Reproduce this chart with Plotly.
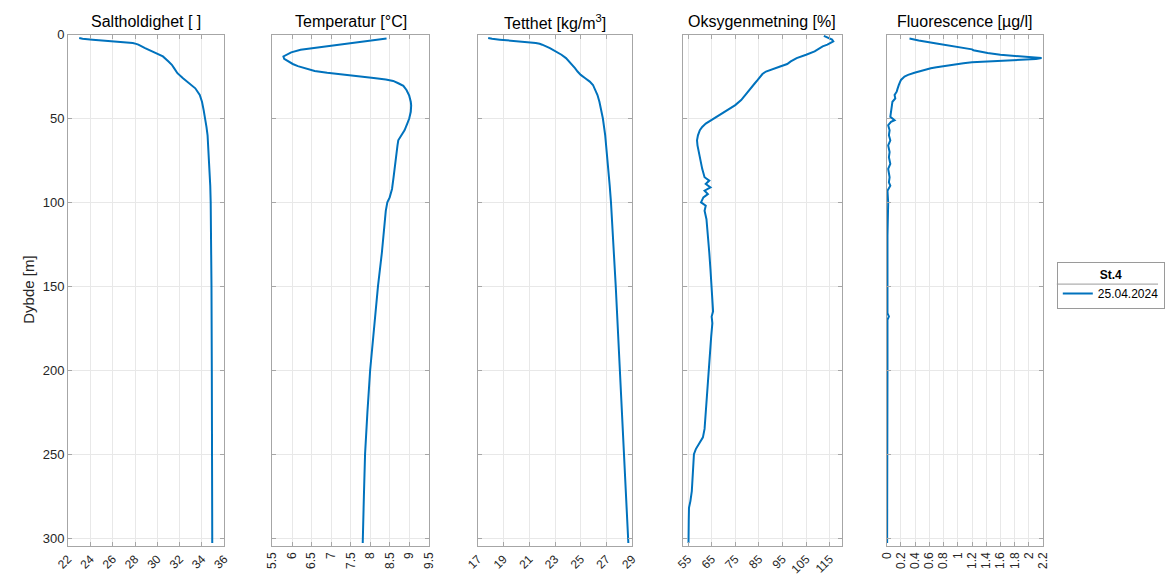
import plotly.graph_objects as go

# ---------------- data ----------------
sal_depth = [2, 2.5, 3, 3.5, 4, 4.5, 5, 5.5, 6, 8, 10, 13, 16, 18, 20, 23, 26, 29, 32, 36,
             40, 45, 50, 55, 60, 70, 80, 90, 100, 120, 150, 200, 250, 303]
sal_values = [23.0, 23.3, 24.2, 25.3, 26.3, 27.2, 27.8, 28.1, 28.3, 28.9, 29.6, 30.5, 31.0, 31.3,
              31.5, 31.8, 32.3, 32.9, 33.4, 33.8, 34.0, 34.15, 34.3, 34.4, 34.5, 34.6, 34.68,
              34.74, 34.78, 34.82, 34.85, 34.88, 34.9, 34.92]

temp_depth = [2.3, 3.5, 5.3, 6.5, 7.6, 9, 10.6, 12, 13, 14.5, 15.9, 17.5, 18.8, 20.3, 21.7, 22.7,
              23.5, 24.7, 25.8, 26.8, 27.6, 29, 30.5, 33, 36.4, 40, 42.3, 46, 50, 53, 57, 60, 63,
              66, 75, 85, 92, 97, 100, 105, 115, 130, 150, 175, 200, 225, 250, 275, 303]
temp_values = [8.42, 8.0, 7.41, 6.95, 6.58, 6.22, 5.98, 5.84, 5.78, 5.8, 5.9, 6.02, 6.15, 6.35,
               6.58, 6.9, 7.24, 7.7, 8.09, 8.4, 8.59, 8.72, 8.85, 8.93, 9.0, 9.04, 9.05, 9.04, 9.0,
               8.95, 8.88, 8.8, 8.72, 8.7, 8.66, 8.6, 8.56, 8.5, 8.44, 8.4, 8.36, 8.3, 8.2, 8.1,
               8.0, 7.93, 7.87, 7.84, 7.81]

dens_depth = [2, 2.5, 3, 3.5, 4, 4.5, 5, 5.5, 6, 8, 10, 12, 14, 16, 18, 20, 22, 24, 26, 28, 30,
              33, 36, 40, 45, 50, 60, 70, 80, 90, 100, 125, 150, 175, 200, 225, 250, 275, 303]
dens_values = [17.8, 18.1, 18.7, 19.5, 20.3, 21.0, 21.5, 21.8, 22.0, 22.6, 23.1, 23.5, 23.85,
               24.1, 24.35, 24.55, 24.75, 25.0, 25.35, 25.7, 25.95, 26.15, 26.3, 26.45, 26.6,
               26.72, 26.9, 27.03, 27.14, 27.25, 27.35, 27.55, 27.72, 27.88, 28.03, 28.18, 28.33,
               28.5, 28.7]

oxy_depth = [0.8, 1.5, 2.3, 3, 4, 5, 6, 7, 8.5, 10, 12, 14, 16, 17.5, 19, 20.5, 22, 23.5, 25, 27,
             29, 32, 36, 39, 42, 45, 48, 51, 53, 55, 57, 60, 63, 66, 70, 75, 80, 85, 87, 89, 91,
             93, 95, 97, 100, 102, 105, 110, 120, 130, 140, 150, 160, 165, 168, 172, 180, 190,
             200, 215, 225, 235, 240, 244, 247, 250, 258, 265, 272, 278, 282, 290, 303]
oxy_values = [112.5, 113.5, 114.5, 116, 116.5, 115.5, 114, 112, 110, 108.6, 105, 101, 98.5, 97,
              94, 91, 88, 86.5, 85.5, 84.5, 83.3, 81.5, 79.5, 77.5, 75, 71.5, 68.5, 65, 62.5, 61,
              60, 59.2, 58.8, 59, 59.5, 60.2, 61, 62, 64, 62.5, 64.5, 62, 63.4, 61.5, 60.5, 62.5,
              62, 62.8, 63.5, 64, 64.5, 65, 65.3, 65.6, 65, 65.3, 64.8, 64.3, 63.8, 63.2, 62.6,
              62, 61.3, 59.5, 58.3, 57.5, 57.2, 57, 56.6, 56, 55.4, 55.3, 55.2]

flu_depth = [2.3, 3.5, 5.3, 6.5, 7.5, 8.2, 8.8, 9.3, 10, 11, 12, 12.8, 13.5, 14, 14.5, 15, 15.7,
             16.5, 17, 18, 19, 19.5, 20, 21, 22, 22.7, 24, 25, 27, 28.6, 30, 32.5, 34, 36, 38, 40,
             43, 46, 49, 51, 52, 54, 57, 60, 63, 66, 70, 73, 77, 80, 85, 88, 90, 93, 100, 120,
             150, 166, 168, 170, 200, 250, 303]
flu_values = [0.32, 0.45, 0.70, 0.88, 1.05, 1.16, 1.2, 1.22, 1.3, 1.42, 1.6, 1.85, 2.05, 2.18,
              2.1, 1.85, 1.5, 1.2, 1.08, 0.9, 0.75, 0.7, 0.62, 0.52, 0.43, 0.39, 0.3, 0.25, 0.2,
              0.18, 0.17, 0.15, 0.14, 0.11, 0.12, 0.08, 0.07, 0.06, 0.05, 0.11, 0.06, 0.02, 0.04,
              0.03, 0.05, 0.02, 0.04, 0.03, 0.05, 0.02, 0.04, 0.03, 0.05, 0.01, 0.02, 0.01, 0.01,
              0.01, 0.03, 0.01, 0.01, 0.005, 0.005]

panel_titles = ["Saltholdighet [ ]", "Temperatur [°C]", "Tetthet [kg/m<sup>3</sup>]",
                "Oksygenmetning [%]", "Fluorescence [µg/l]"]

sal_ticks = [22, 24, 26, 28, 30, 32, 34, 36]
sal_ticktext = ["22", "24", "26", "28", "30", "32", "34", "36"]
temp_ticks = [5.5, 6, 6.5, 7, 7.5, 8, 8.5, 9, 9.5]
temp_ticktext = ["5.5", "6", "6.5", "7", "7.5", "8", "8.5", "9", "9.5"]
dens_ticks = [17, 19, 21, 23, 25, 27, 29]
dens_ticktext = ["17", "19", "21", "23", "25", "27", "29"]
oxy_ticks = [55, 65, 75, 85, 95, 105, 115]
oxy_ticktext = ["55", "65", "75", "85", "95", "105", "115"]
flu_ticks = [0, 0.2, 0.4, 0.6, 0.8, 1, 1.2, 1.4, 1.6, 1.8, 2, 2.2]
flu_ticktext = ["0", "0.2", "0.4", "0.6", "0.8", "1", "1.2", "1.4", "1.6", "1.8", "2", "2.2"]

depth_ticks = [0, 50, 100, 150, 200, 250, 300]
station_name = "St.4"
series_name = "25.04.2024"

# ---------------- layout constants ----------------
W, H = 1167, 576
panels_px = [(56, 215), (264, 423), (473, 630), (682, 843), (889, 1048)]
y_top_px, y_bot_px = 28, 547
x_ranges = [[22, 36], [5.5, 9.5], [17, 29], [53, 120], [0, 2.2]]
tick_angles = [-45, -90, -45, -45, -90]
LINE = "#0072BD"
AXC = "#a6a6a6"
GRID = "#e8e8e8"
TXT = "#262626"
FONT = "Liberation Sans, Arial, Helvetica, sans-serif"

series = [
    (sal_values, sal_depth, sal_ticks, sal_ticktext),
    (temp_values, temp_depth, temp_ticks, temp_ticktext),
    (dens_values, dens_depth, dens_ticks, dens_ticktext),
    (oxy_values, oxy_depth, oxy_ticks, oxy_ticktext),
    (flu_values, flu_depth, flu_ticks, flu_ticktext),
]

fig = go.Figure()
layout = dict(
    width=W, height=H, autosize=False,
    margin=dict(l=0, r=0, t=0, b=0),
    paper_bgcolor="white", plot_bgcolor="white",
    font=dict(family=FONT, color=TXT, size=12),
    showlegend=True,
)

ydom = [1 - y_bot_px / H, 1 - y_top_px / H]
annotations = []
for i, (xv, yv, tv, tt) in enumerate(series):
    n = "" if i == 0 else str(i + 1)
    fig.add_trace(go.Scatter(
        x=xv, y=yv, mode="lines", name=series_name,
        line=dict(color=LINE, width=2),
        xaxis="x" + n, yaxis="y" + n, showlegend=(i == 0),
    ))
    x0, x1 = panels_px[i]
    layout["xaxis" + n] = dict(
        domain=[x0 / W, x1 / W], range=x_ranges[i], anchor="y" + n,
        tickmode="array", tickvals=tv, ticktext=tt, tickangle=tick_angles[i],
        ticks="inside", ticklen=4, tickcolor=AXC, mirror="ticks",
        showline=True, linecolor=AXC, linewidth=1,
        showgrid=True, gridcolor=GRID, gridwidth=1, zeroline=False,
        tickfont=dict(size=12, color=TXT, family=FONT),
    )
    layout["yaxis" + n] = dict(
        domain=ydom, range=[305, 0], anchor="x" + n,
        tickmode="array", tickvals=depth_ticks,
        showticklabels=(i == 0),
        ticks="inside", ticklen=4, tickcolor=AXC, mirror="ticks",
        showline=True, linecolor=AXC, linewidth=1,
        showgrid=True, gridcolor=GRID, gridwidth=1, zeroline=False,
        tickfont=dict(size=13, color=TXT, family=FONT),
    )
    annotations.append(dict(
        text=panel_titles[i], x=(x0 + x1) / 2 / W, y=1 - 15 / H,
        xref="paper", yref="paper", xanchor="center", yanchor="middle",
        showarrow=False, font=dict(size=16, color="#000000", family=FONT),
    ))

annotations.append(dict(
    text="Dybde [m]", x=15 / W, y=1 - 287 / H, xref="paper", yref="paper",
    xanchor="center", yanchor="middle", textangle=-90, showarrow=False,
    font=dict(size=15, color=TXT, family=FONT),
))

layout["annotations"] = annotations
layout["legend"] = dict(
    x=1062 / W, y=1 - 259 / H, xanchor="left", yanchor="top",
    bgcolor="rgba(255,255,255,0)", bordercolor="#9a9a9a", borderwidth=1,
    font=dict(size=12, color="#000000", family=FONT),
    title=dict(text="<b>" + station_name + "</b>", side="top center",
               font=dict(size=12, color="#000000", family=FONT)),
    itemwidth=30, tracegroupgap=0,
)
layout["shapes"] = [dict(
    type="line", xref="paper", yref="paper",
    x0=1062 / W, x1=1165 / W, y0=1 - 281 / H, y1=1 - 281 / H,
    line=dict(color="#9a9a9a", width=1),
)]

fig.update_layout(**layout)
fig.write_html("out.html")
